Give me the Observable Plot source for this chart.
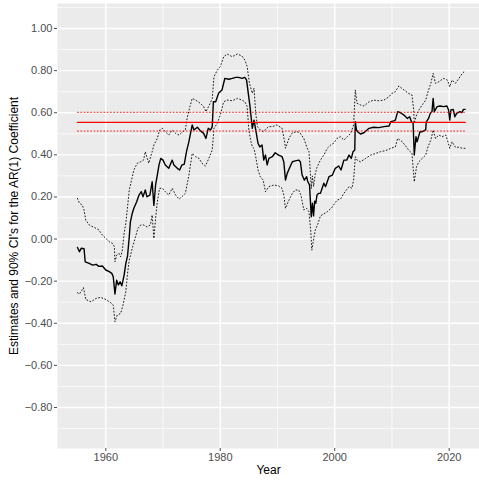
<!DOCTYPE html>
<html><head><meta charset="utf-8">
<script src="https://cdn.jsdelivr.net/npm/d3@7"></script>
<script src="https://cdn.jsdelivr.net/npm/@observablehq/plot@0.6"></script>
<style>body{margin:0;background:#fff} svg{display:block}</style>
</head><body><div id="chart"></div>
<script>
// Rolling AR(1) estimate
const estYear = [1955.05,1955.4,1955.7,1956.2,1956.4,1957.1,1957.7,1958.3,1958.8,1959.4,1960.0,1960.6,1961.05,1961.3,1961.6,1961.9,1962.2,1962.5,1962.8,1963.2,1963.5,1963.8,1964.1,1964.3,1964.6,1964.9,1965.4,1965.8,1966.2,1966.5,1966.9,1967.2,1967.7,1968.1,1968.4,1968.7,1969.0,1969.3,1969.6,1970.0,1970.4,1971.0,1971.6,1971.9,1972.5,1972.9,1973.3,1973.7,1974.1,1974.5,1975.1,1975.4,1976.0,1976.5,1977.1,1977.5,1977.9,1978.3,1978.6,1978.8,1979.2,1979.7,1980.3,1980.8,1981.5,1982.1,1982.7,1983.2,1983.8,1984.3,1984.6,1984.9,1985.2,1985.6,1985.9,1986.2,1986.6,1986.9,1987.3,1987.6,1987.9,1988.2,1988.5,1989.1,1989.6,1990.2,1990.8,1991.1,1991.4,1991.7,1992.2,1992.6,1993.1,1993.7,1994.0,1994.3,1994.7,1995.1,1995.3,1995.6,1995.9,1996.1,1996.3,1996.5,1996.7,1996.9,1997.2,1997.5,1998.1,1998.4,1999.0,1999.6,2000.1,2000.7,2001.1,2001.6,2002.1,2002.5,2002.9,2003.2,2003.5,2003.6,2003.8,2004.0,2004.5,2005.1,2006.0,2006.8,2007.7,2008.6,2009.5,2009.8,2010.3,2010.6,2011.0,2011.5,2012.1,2012.7,2013.1,2013.4,2013.7,2013.9,2014.2,2014.4,2014.9,2015.3,2015.9,2016.0,2016.4,2016.7,2017.0,2017.2,2017.4,2017.9,2018.4,2019.0,2019.6,2019.9,2020.1,2020.3,2020.7,2021.0,2021.3,2021.9,2022.2,2022.5,2022.8];
const estValue = [-0.040,-0.060,-0.044,-0.046,-0.108,-0.116,-0.124,-0.120,-0.130,-0.128,-0.147,-0.155,-0.163,-0.179,-0.261,-0.195,-0.218,-0.203,-0.222,-0.171,-0.116,-0.080,0.011,0.082,0.120,0.146,0.177,0.209,0.225,0.201,0.233,0.201,0.209,0.272,0.160,0.257,0.304,0.352,0.383,0.375,0.352,0.336,0.375,0.352,0.336,0.328,0.352,0.355,0.415,0.460,0.542,0.518,0.531,0.515,0.502,0.478,0.526,0.518,0.534,0.652,0.652,0.692,0.708,0.763,0.759,0.763,0.768,0.768,0.763,0.768,0.755,0.692,0.629,0.526,0.565,0.518,0.455,0.438,0.447,0.375,0.399,0.352,0.383,0.391,0.410,0.399,0.391,0.367,0.280,0.312,0.343,0.367,0.371,0.375,0.367,0.304,0.280,0.296,0.272,0.257,0.106,0.170,0.110,0.180,0.170,0.209,0.217,0.217,0.265,0.249,0.296,0.304,0.336,0.347,0.328,0.375,0.375,0.399,0.383,0.415,0.423,0.557,0.518,0.510,0.499,0.505,0.526,0.531,0.529,0.534,0.537,0.557,0.561,0.565,0.605,0.600,0.589,0.573,0.581,0.557,0.550,0.399,0.486,0.462,0.510,0.510,0.518,0.557,0.573,0.597,0.605,0.668,0.605,0.629,0.632,0.629,0.632,0.613,0.565,0.613,0.616,0.581,0.597,0.605,0.600,0.616,0.616];

// Upper 90% CI
const upperYear = [1955.05,1955.4,1955.9,1956.2,1956.5,1957.1,1958.0,1958.8,1959.4,1960.0,1960.6,1961.2,1961.5,1961.6,1961.9,1962.3,1962.6,1962.9,1963.2,1963.5,1963.8,1964.1,1964.5,1964.9,1965.5,1966.1,1966.6,1966.9,1967.5,1968.1,1968.4,1969.0,1969.4,1969.9,1970.4,1971.0,1971.6,1972.2,1972.8,1973.3,1973.9,1974.2,1974.7,1975.1,1975.7,1976.5,1977.1,1977.5,1978.1,1978.6,1978.9,1979.5,1980.0,1980.6,1981.2,1982.1,1983.0,1983.8,1984.3,1984.7,1985.1,1985.6,1985.9,1986.2,1986.5,1987.0,1987.5,1987.9,1988.5,1989.1,1989.9,1990.8,1991.2,1991.4,1992.0,1992.6,1993.4,1994.0,1994.6,1995.2,1995.5,1995.6,1995.9,1996.1,1996.3,1996.6,1996.9,1997.5,1998.1,1998.7,1999.3,1999.8,2000.4,2001.0,2001.6,2002.2,2002.8,2003.3,2003.6,2003.9,2004.5,2005.1,2006.0,2006.8,2007.7,2008.6,2009.5,2010.0,2010.6,2011.2,2012.1,2012.9,2013.5,2013.8,2013.9,2014.3,2014.7,2015.3,2015.9,2016.3,2016.8,2017.2,2017.6,2018.2,2019.0,2019.7,2020.1,2020.5,2021.1,2021.7,2022.3,2022.8];
const upperValue = [0.193,0.170,0.161,0.138,0.090,0.067,0.055,0.043,0.019,0.003,-0.013,-0.021,-0.036,-0.108,-0.076,-0.068,-0.084,-0.052,0.027,0.075,0.153,0.233,0.280,0.328,0.360,0.367,0.375,0.415,0.360,0.415,0.447,0.478,0.518,0.526,0.510,0.494,0.518,0.502,0.494,0.507,0.518,0.573,0.629,0.668,0.660,0.645,0.629,0.605,0.637,0.668,0.771,0.803,0.819,0.866,0.879,0.866,0.879,0.869,0.850,0.819,0.740,0.692,0.716,0.597,0.534,0.518,0.510,0.521,0.534,0.534,0.542,0.526,0.470,0.431,0.478,0.505,0.510,0.502,0.478,0.431,0.415,0.380,0.240,0.300,0.250,0.310,0.340,0.375,0.399,0.431,0.447,0.455,0.478,0.486,0.470,0.486,0.502,0.542,0.708,0.645,0.637,0.632,0.652,0.660,0.657,0.660,0.676,0.692,0.700,0.727,0.708,0.692,0.684,0.613,0.550,0.589,0.613,0.637,0.660,0.700,0.740,0.787,0.740,0.747,0.763,0.755,0.723,0.755,0.740,0.763,0.787,0.800];

// Lower 90% CI
const lowerYear = [1955.05,1955.4,1956.1,1956.5,1957.4,1958.3,1959.1,1960.0,1960.9,1961.3,1961.6,1962.0,1962.6,1963.0,1963.5,1963.8,1964.1,1964.7,1965.2,1965.6,1966.1,1966.6,1967.2,1967.8,1968.1,1968.4,1968.7,1969.0,1969.4,1969.9,1970.4,1971.0,1971.6,1972.2,1972.8,1973.3,1973.9,1974.5,1975.1,1975.7,1976.3,1976.8,1977.4,1978.0,1978.6,1978.9,1979.5,1980.0,1980.6,1981.2,1982.1,1983.0,1983.8,1984.3,1984.7,1985.0,1985.3,1985.6,1985.9,1986.2,1986.6,1987.0,1987.5,1987.9,1988.5,1989.4,1990.2,1990.8,1991.1,1991.4,1992.0,1992.6,1993.1,1993.7,1994.1,1994.6,1995.1,1995.5,1995.8,1996.0,1996.2,1996.6,1997.1,1997.5,1998.7,1999.5,2000.4,2001.0,2001.6,2002.5,2003.0,2003.3,2003.6,2003.9,2004.5,2005.4,2006.3,2007.2,2008.0,2008.9,2009.8,2010.6,2011.0,2011.8,2012.4,2012.9,2013.5,2013.9,2014.3,2014.7,2015.3,2015.9,2016.3,2016.8,2017.2,2017.6,2018.2,2018.8,2019.4,2019.7,2020.1,2020.5,2021.1,2021.7,2022.3,2022.8];
const lowerValue = [-0.255,-0.261,-0.231,-0.287,-0.298,-0.282,-0.277,-0.287,-0.303,-0.314,-0.393,-0.361,-0.353,-0.314,-0.250,-0.163,-0.100,-0.036,0.011,0.050,0.067,0.067,0.058,0.067,0.114,0.003,0.098,0.177,0.241,0.241,0.225,0.209,0.241,0.209,0.190,0.201,0.217,0.300,0.407,0.391,0.383,0.360,0.347,0.383,0.423,0.526,0.550,0.589,0.652,0.660,0.657,0.668,0.660,0.652,0.629,0.518,0.470,0.438,0.430,0.391,0.328,0.296,0.280,0.225,0.249,0.257,0.252,0.241,0.209,0.146,0.185,0.217,0.233,0.233,0.209,0.138,0.146,0.130,0.043,-0.052,-0.020,0.043,0.075,0.110,0.130,0.150,0.185,0.190,0.217,0.249,0.241,0.280,0.391,0.375,0.367,0.383,0.399,0.407,0.415,0.420,0.431,0.438,0.478,0.462,0.442,0.423,0.407,0.272,0.343,0.367,0.383,0.399,0.438,0.470,0.518,0.478,0.494,0.486,0.494,0.470,0.431,0.462,0.436,0.436,0.431,0.431];

// Full-sample estimate and its 90% CI (horizontal reference lines)
const fullYears = [1955.05, 2022.8];
const fullEstimate = 0.554;
const fullUpper = 0.602;
const fullLower = 0.513;

// Axis ticks
const xTicks = [1960, 1980, 2000, 2020];
const xMinor = [1970, 1990, 2010];
const yTicks = [-0.8, -0.6, -0.4, -0.2, 0, 0.2, 0.4, 0.6, 0.8, 1.0];
const yMinor = [-0.9, -0.7, -0.5, -0.3, -0.1, 0.1, 0.3, 0.5, 0.7, 0.9, 1.1];
const xTitle = "Year";
const yTitle = "Estimates and 90% CI's for the AR(1) Coefficient";

const est = estYear.map((x, i) => ({x, y: estValue[i]}));
const upper = upperYear.map((x, i) => ({x, y: upperValue[i]}));
const lower = lowerYear.map((x, i) => ({x, y: lowerValue[i]}));
const hEst = fullYears.map(x => ({x, y: fullEstimate}));
const hUp = fullYears.map(x => ({x, y: fullUpper}));
const hLo = fullYears.map(x => ({x, y: fullLower}));

const fmtY = d => (d < 0 ? "\u2212" : "") + Math.abs(d).toFixed(2);
const dot = {strokeWidth: 0.9, strokeDasharray: "0.9,2.4"};

const chart = Plot.plot({
  width: 479, height: 480,
  marginLeft: 57, marginRight: 0, marginTop: 3, marginBottom: 32,
  style: {fontFamily: "'Liberation Sans', Arial, Helvetica, sans-serif", background: "white", overflow: "visible"},
  x: {domain: [1951.56, 2025.3]},
  y: {domain: [-0.9948, 1.1188]},
  marks: [
    Plot.frame({fill: "#EBEBEB", stroke: null}),
    Plot.gridY(yMinor, {stroke: "white", strokeOpacity: 1, strokeWidth: 0.7}),
    Plot.gridX(xMinor, {stroke: "white", strokeOpacity: 1, strokeWidth: 0.7}),
    Plot.gridY(yTicks, {stroke: "white", strokeOpacity: 1, strokeWidth: 1.4}),
    Plot.gridX(xTicks, {stroke: "white", strokeOpacity: 1, strokeWidth: 1.4}),
    Plot.axisY(yTicks, {anchor: "left", tickSize: 3, tickPadding: 2, tickFormat: fmtY, fontSize: 11, color: "#4D4D4D", label: null}),
    Plot.axisX(xTicks, {anchor: "bottom", tickSize: 3, tickPadding: 2, tickFormat: d => String(d), fontSize: 11, color: "#4D4D4D", label: null}),
    Plot.line(upper, {x: "x", y: "y", stroke: "black", ...dot}),
    Plot.line(lower, {x: "x", y: "y", stroke: "black", ...dot}),
    Plot.line(est, {x: "x", y: "y", stroke: "black", strokeWidth: 1.4}),
    Plot.line(hUp, {x: "x", y: "y", stroke: "red", ...dot}),
    Plot.line(hLo, {x: "x", y: "y", stroke: "red", ...dot}),
    Plot.line(hEst, {x: "x", y: "y", stroke: "red", strokeWidth: 1.4}),
    Plot.text([yTitle], {frameAnchor: "left", textAnchor: "middle", dx: -43, rotate: -90, fontSize: 12, fill: "black"}),
    Plot.text([xTitle], {frameAnchor: "bottom", textAnchor: "middle", dy: 25, fontSize: 12, fill: "black"})
  ]
});
document.getElementById("chart").appendChild(chart);
</script>
</body></html>
